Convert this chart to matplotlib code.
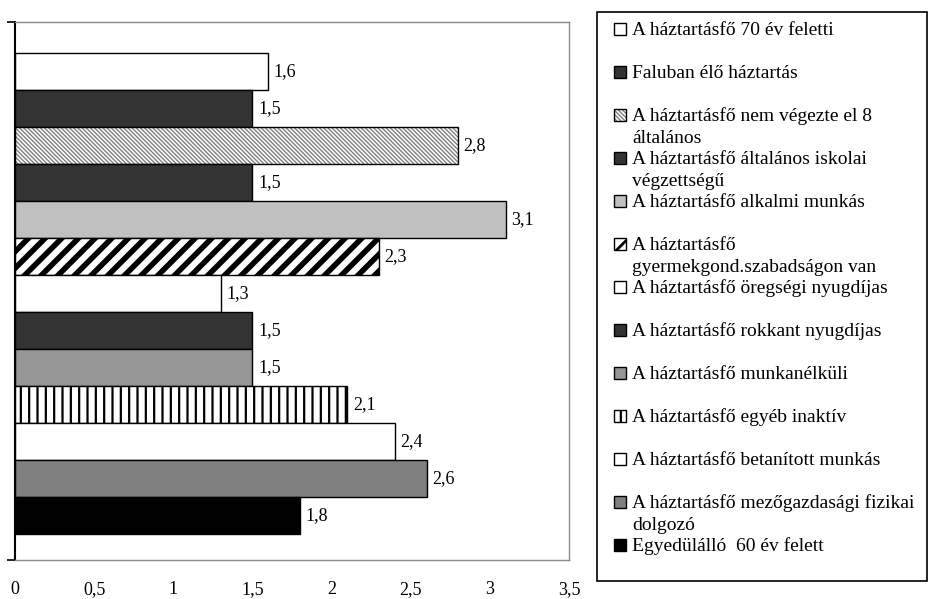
import matplotlib
matplotlib.use('Agg')
import matplotlib.pyplot as plt
from matplotlib.patches import Rectangle

# categories (top to bottom, same order as legend)
labels = [
    'A háztartásfő 70 év feletti',
    'Faluban élő háztartás',
    'A háztartásfő nem végezte el 8\náltalános',
    'A háztartásfő általános iskolai\nvégzettségű',
    'A háztartásfő alkalmi munkás',
    'A háztartásfő\ngyermekgond.szabadságon van',
    'A háztartásfő öregségi nyugdíjas',
    'A háztartásfő rokkant nyugdíjas',
    'A háztartásfő munkanélküli',
    'A háztartásfő egyéb inaktív',
    'A háztartásfő betanított munkás',
    'A háztartásfő mezőgazdasági fizikai\ndolgozó',
    'Egyedülálló  60 év felett',
]
values = [1.6, 1.5, 2.8, 1.5, 3.1, 2.3, 1.3, 1.5, 1.5, 2.1, 2.4, 2.6, 1.8]
xticks = [0, 0.5, 1, 1.5, 2, 2.5, 3, 3.5]

# fill, hatch, hatch colour, hatch linewidth
styles = [
    ('white', None, None, 0),
    ('#333333', None, None, 0),
    ('white', '\\\\\\\\\\\\\\\\', '#808080', 1.0),
    ('#333333', None, None, 0),
    ('#c0c0c0', None, None, 0),
    ('white', '//', 'black', 4.0),
    ('white', None, None, 0),
    ('#333333', None, None, 0),
    ('#969696', None, None, 0),
    ('white', '||', 'black', 1.6),
    ('white', None, None, 0),
    ('#808080', None, None, 0),
    ('black', None, None, 0),
]

FONT = 'Liberation Serif'
FS = 13      # values and ticks
LFS = 14     # legend


def fmt(v):
    return ('%g' % v).replace('.', ',')


fig = plt.figure(figsize=(9.29, 5.99), dpi=100)
ax = fig.add_axes([15 / 929, 1 - 560 / 599, 554 / 929, 538 / 599])

ypos = list(range(len(values)))
for y, v, (fc, hatch, hc, hlw) in zip(ypos, values, styles):
    if hatch:
        with plt.rc_context({'hatch.linewidth': hlw}):
            bars = ax.barh(y, v, height=1.0, color=fc, hatch=hatch,
                           edgecolor=hc, linewidth=0)
        for b in bars:
            if hasattr(b, 'set_hatch_linewidth'):
                b.set_hatch_linewidth(hlw)
        ax.barh(y, v, height=1.0, fill=False, edgecolor='black', linewidth=1.0)
    else:
        ax.barh(y, v, height=1.0, color=fc, edgecolor='black', linewidth=1.0)
    ax.text(v + 0.035, y, fmt(v), va='center', ha='left',
            fontsize=FS, family=FONT, color='black')

ax.set_xlim(0, 3.5)
ylo, yhi = 13.2, -1.34
ax.set_ylim(ylo, yhi)
ax.set_xticks(xticks)
ax.set_xticklabels([fmt(t) for t in xticks], fontsize=FS, family=FONT)
ax.tick_params(axis='x', length=0, pad=15)
ax.set_yticks([ylo, yhi])
ax.set_yticklabels(['', ''])
ax.tick_params(axis='y', length=6, width=1.2, direction='out', color='black')
for s in ['top', 'right', 'bottom']:
    ax.spines[s].set_color('#8c8c8c')
    ax.spines[s].set_linewidth(1.0)
ax.spines['left'].set_color('black')
ax.spines['left'].set_linewidth(1.5)

# legend drawn by hand in pixel units
W, H = 929, 599


def px(x, y):
    return x / W, 1 - y / H


fig.patches.append(Rectangle(px(597, 581), 330 / W, 569 / H,
                             transform=fig.transFigure, fill=False,
                             edgecolor='black', linewidth=1.2))
for i, (lab, (fc, hatch, hc, hlw)) in enumerate(zip(labels, styles)):
    base = 35 + i * 43.0
    x0, y0 = px(614, base)
    sw, sh = 12 / W, 12 / H
    if hatch:
        with plt.rc_context({'hatch.linewidth': min(hlw, 2.0)}):
            r = Rectangle((x0, y0), sw, sh, transform=fig.transFigure,
                          facecolor=fc, hatch=hatch, edgecolor=hc, linewidth=0)
        fig.patches.append(r)
        fig.patches.append(Rectangle((x0, y0), sw, sh,
                                     transform=fig.transFigure, fill=False,
                                     edgecolor='black', linewidth=1.0))
    else:
        fig.patches.append(Rectangle((x0, y0), sw, sh,
                                     transform=fig.transFigure, facecolor=fc,
                                     edgecolor='black', linewidth=1.0))
    for k, line in enumerate(lab.split('\n')):
        tx, ty = px(632, base + k * 22)
        fig.text(tx, ty, line, ha='left', va='baseline', fontsize=LFS,
                 family=FONT)

fig.savefig('out.png', dpi=100)
